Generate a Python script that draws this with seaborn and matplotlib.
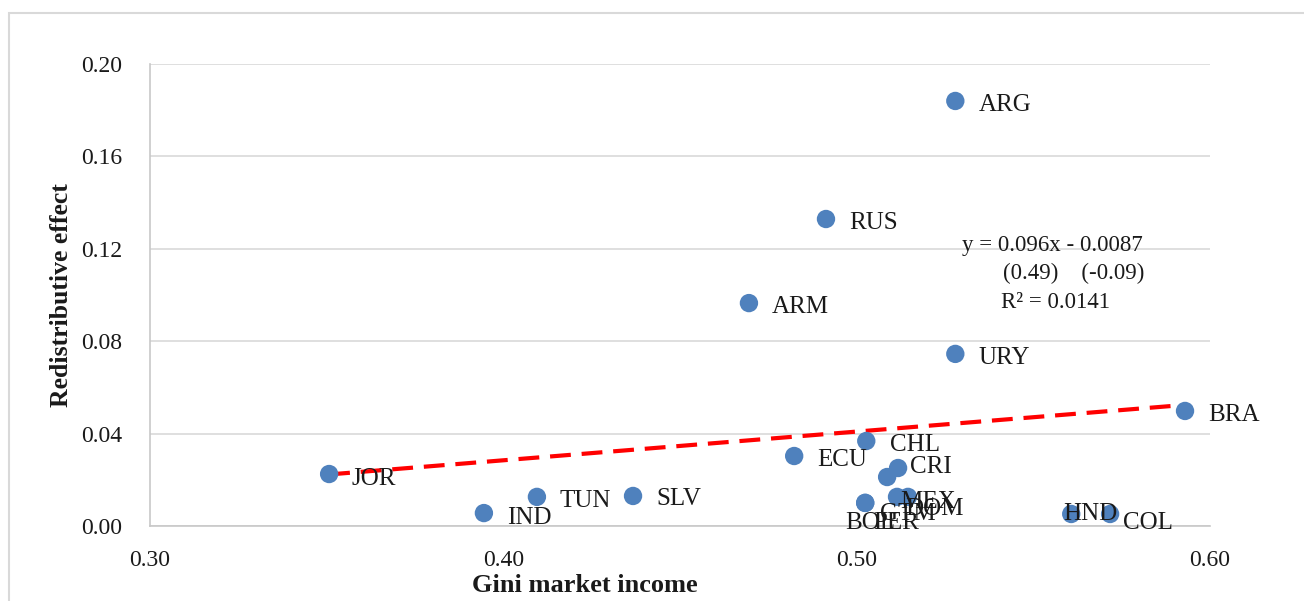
import matplotlib
matplotlib.use("Agg")
import matplotlib.pyplot as plt
from matplotlib.patches import Rectangle
import seaborn as sns
import pandas as pd

# ---- data ----
countries = ["JOR", "IND", "TUN", "SLV", "ARM", "ECU", "RUS", "CHL", "GTM", "BOL",
             "PER", "CRI", "MEX", "DOM", "ARG", "URY", "HND", "COL", "BRA"]
gini_market = [0.3507, 0.3945, 0.4095, 0.4367, 0.4695, 0.4823, 0.4913, 0.5027, 0.5024, 0.5024,
               0.5086, 0.5117, 0.5114, 0.5145, 0.5279, 0.5279, 0.5607, 0.5717, 0.5929]
redistributive = [0.0225, 0.0056, 0.0126, 0.0130, 0.0965, 0.0303, 0.1329, 0.0368, 0.0100, 0.0100,
                  0.0212, 0.0251, 0.0126, 0.0126, 0.1840, 0.0745, 0.0052, 0.0052, 0.0498]
x_ticks = [0.30, 0.40, 0.50, 0.60]
y_ticks = [0.00, 0.04, 0.08, 0.12, 0.16, 0.20]
equation_lines = ["y = 0.096x - 0.0087", "(0.49)    (-0.09)", "R\u00b2 = 0.0141"]

# label placement (offset pixels, horizontal alignment)
label_offsets = {
    "ARG": (23, -4, "left"), "RUS": (23, -4, "left"), "ARM": (23, -4, "left"),
    "URY": (23, -4, "left"), "BRA": (23, -4, "left"), "CHL": (24, -4, "left"),
    "ECU": (23, -4, "left"), "JOR": (22, -5, "left"), "IND": (23, -5, "left"),
    "TUN": (23, -4, "left"), "SLV": (23, -3, "left"), "CRI": (12, 1, "left"),
    "HND": (19, 0, "center"), "COL": (13, -9, "left"), "GTM": (15, -11, "left"),
    "BOL": (-20, -20, "left"), "PER": (-14, -46, "left"), "MEX": (3, -5, "left"),
    "DOM": (-3, -12, "left"),
}

df = pd.DataFrame({"country": countries, "gini": gini_market, "redis": redistributive})

sns.set_theme(style="white")
plt.rcParams["font.family"] = ["Liberation Serif", "DejaVu Serif"]

fig = plt.figure(figsize=(13.04, 6.01), dpi=100)
ax = fig.add_axes([0.115, 0.1248, 0.928 - 0.115, 0.8935 - 0.1248])

sns.regplot(data=df, x="gini", y="redis", scatter=False, ci=None, ax=ax,
            line_kws=dict(color="#FF0000", lw=3.0, dashes=(5.0, 2.6), zorder=2))
sns.scatterplot(data=df, x="gini", y="redis", ax=ax, s=175, color="#4F81BD",
                edgecolor="none", zorder=3, legend=False)

for name, xv, yv in zip(countries, gini_market, redistributive):
    dx, dy, ha = label_offsets[name]
    ax.annotate(name, (xv, yv), xytext=(dx, dy), textcoords="offset pixels",
                ha=ha, va="center", fontsize=18, color="#1a1a1a", zorder=5,
                annotation_clip=False)

ax.set_xlim(0.30, 0.60)
ax.set_ylim(0.0, 0.20)
ax.set_xticks(x_ticks)
ax.set_xticklabels([f"{t:.2f}" for t in x_ticks])
ax.set_yticks(y_ticks)
ax.set_yticklabels([f"{t:.2f}" for t in y_ticks])
ax.tick_params(axis="both", length=0, labelsize=17, labelcolor="#1a1a1a")
ax.tick_params(axis="x", pad=17)
ax.tick_params(axis="y", pad=20)
ax.yaxis.grid(True, color="#D9D9D9", lw=1.2)
ax.xaxis.grid(False)
for side in ["top", "right"]:
    ax.spines[side].set_visible(False)
for side in ["left", "bottom"]:
    ax.spines[side].set_color("#C8C8C8")
    ax.spines[side].set_linewidth(1.2)

ax.set_xlabel("Gini market income", fontsize=19, fontweight="bold", color="#1a1a1a")
ax.set_ylabel("Redistributive effect", fontsize=18.5, fontweight="bold", color="#1a1a1a")
ax.xaxis.label.set_va("center")
ax.yaxis.label.set_va("center")
ax.xaxis.set_label_coords(0.410, -0.128)
ax.yaxis.set_label_coords(-0.083, 0.5)

eq_pos = [(0.766, 0.608), (0.805, 0.547), (0.803, 0.484)]
for txt, (px, py) in zip(equation_lines, eq_pos):
    ax.text(px, py, txt, transform=ax.transAxes, fontsize=16.5, ha="left", va="center",
            color="#1a1a1a", zorder=6)

fig.patches.append(Rectangle((9 / 1304, -0.1), 1.2, (601 - 13) / 601 + 0.1,
                             transform=fig.transFigure, fill=False,
                             edgecolor="#D9D9D9", lw=1.5))

fig.savefig("out.png", dpi=100)
